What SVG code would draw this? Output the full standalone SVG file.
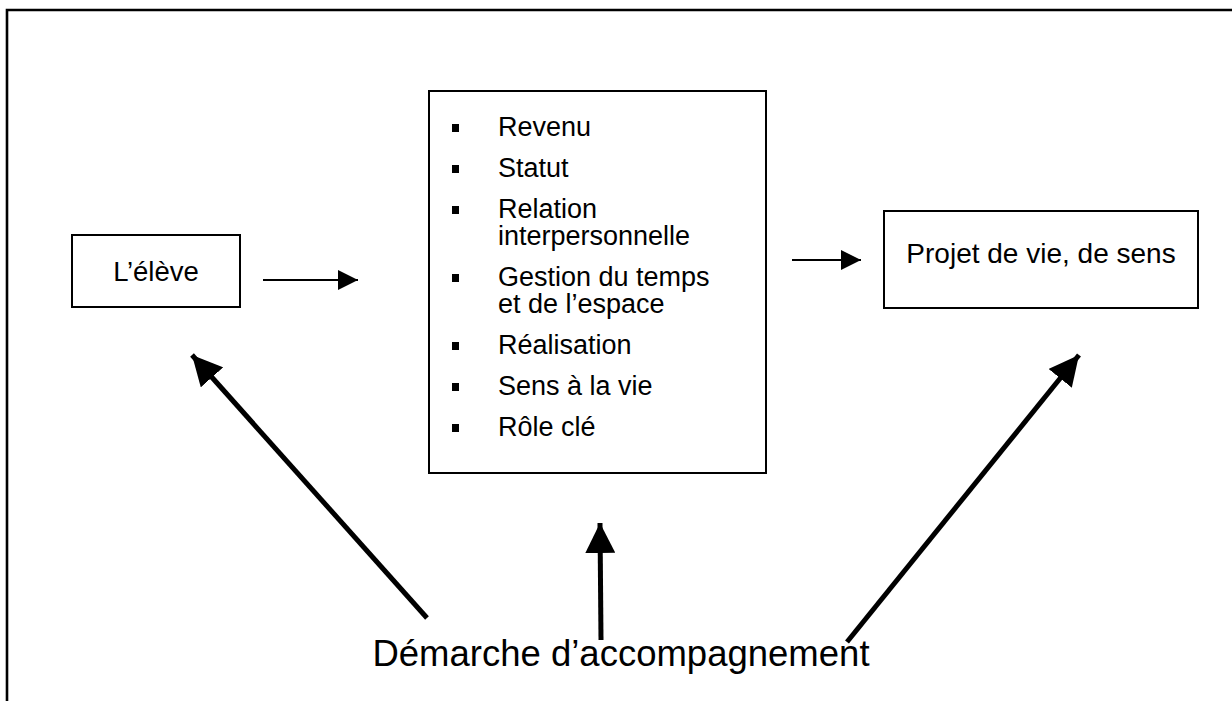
<svg xmlns="http://www.w3.org/2000/svg" width="1232" height="701" viewBox="0 0 1232 701">
<defs>
<style>
.t{font-family:"Liberation Sans",Arial,sans-serif;fill:#000}
.box{fill:#fff;stroke:#000;stroke-width:2}
.thin{stroke:#000;stroke-width:2;fill:none}
.thick{stroke:#000;stroke-width:5;fill:none}
</style>
<marker id="ah" markerUnits="userSpaceOnUse" viewBox="0 0 20 20" refX="20" refY="10" markerWidth="20" markerHeight="20" orient="auto"><path d="M0,0 L20,10 L0,20 Z" fill="#000"/></marker>
<marker id="ahb" markerUnits="userSpaceOnUse" viewBox="0 0 30 30" refX="30" refY="15" markerWidth="30" markerHeight="30" orient="auto"><path d="M0,0 L30,15 L0,30 Z" fill="#000"/></marker>
</defs>
<rect width="1232" height="701" fill="#fff"/>
<path d="M7,701 V10 H1232" fill="none" stroke="#000" stroke-width="2.6"/>
<g id="eleve">
<rect class="box" x="72" y="235" width="168" height="72"/>
<text class="t" x="156" y="281" font-size="27.5" text-anchor="middle">L’élève</text>
</g>
<g id="facteurs">
<rect class="box" x="429" y="91" width="337" height="382"/>
<g fill="#000">
<rect x="452" y="124" width="7" height="8"/>
<rect x="452" y="165" width="7" height="8"/>
<rect x="452" y="206" width="7" height="8"/>
<rect x="452" y="274" width="7" height="8"/>
<rect x="452" y="342" width="7" height="8"/>
<rect x="452" y="383" width="7" height="8"/>
<rect x="452" y="424" width="7" height="8"/>
</g>
<g class="t" font-size="27">
<text x="498" y="136">Revenu</text>
<text x="498" y="177">Statut</text>
<text x="498" y="218">Relation</text>
<text x="498" y="245">interpersonnelle</text>
<text x="498" y="286">Gestion du temps</text>
<text x="498" y="313">et de l’espace</text>
<text x="498" y="354">Réalisation</text>
<text x="498" y="395">Sens à la vie</text>
<text x="498" y="436">Rôle clé</text>
</g>
</g>
<g id="projet">
<rect class="box" x="884" y="211" width="314" height="97"/>
<text class="t" x="1041" y="263" font-size="28" text-anchor="middle">Projet de vie, de sens</text>
</g>
<g id="demarche">
<text class="t" x="621" y="666" font-size="36.5" text-anchor="middle">Démarche d’accompagnement</text>
</g>
<g id="connectors">
<line class="thin" x1="263" y1="280" x2="358" y2="280" marker-end="url(#ah)"/>
<line class="thin" x1="792" y1="260" x2="861" y2="260" marker-end="url(#ah)"/>
<line class="thick" x1="427" y1="618" x2="192" y2="355" marker-end="url(#ahb)"/>
<line class="thick" x1="601" y1="640" x2="600" y2="523" marker-end="url(#ahb)"/>
<line class="thick" x1="847" y1="642" x2="1079" y2="355" marker-end="url(#ahb)"/>
</g>
</svg>
